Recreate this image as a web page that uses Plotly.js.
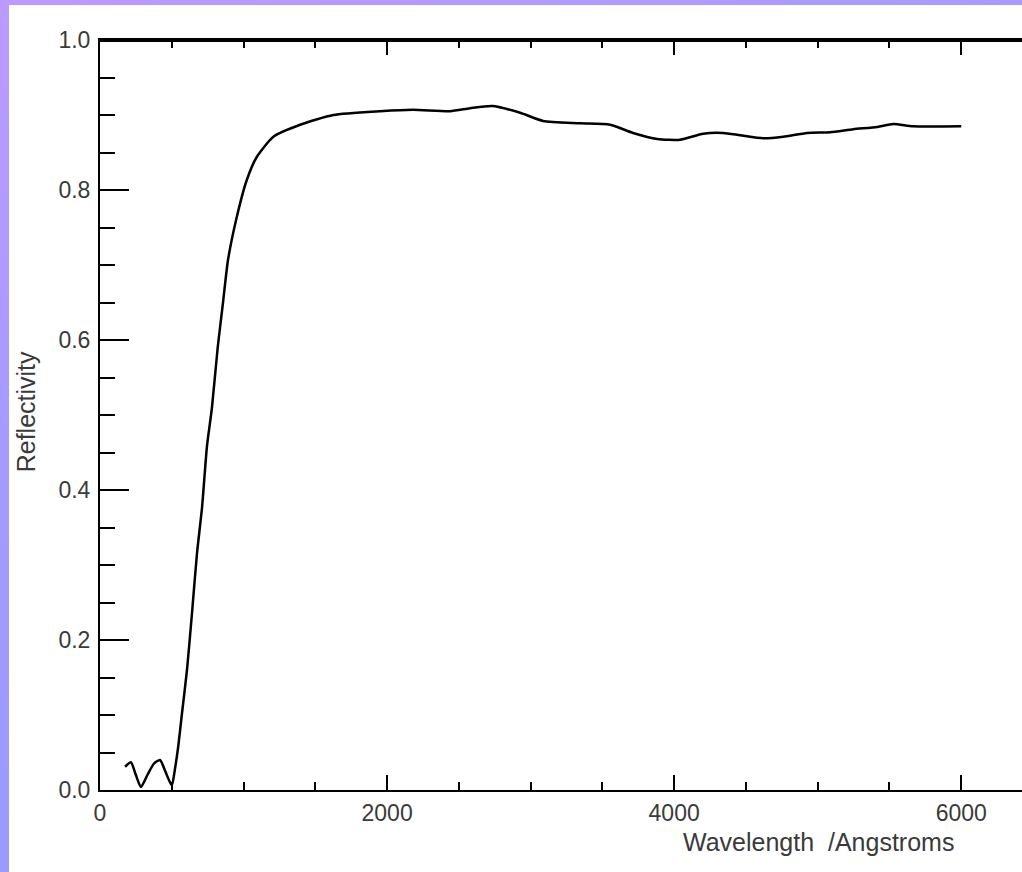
<!DOCTYPE html>
<html>
<head>
<meta charset="utf-8">
<script src="https://cdn.plot.ly/plotly-3.0.1.min.js"></script>
<style>
  html, body { margin: 0; padding: 0; width: 1022px; height: 872px; overflow: hidden; }
  body { background: linear-gradient(160deg, #bb9bff 0%, #a79aff 35%, #9a9aff 70%, #9999ff 100%); position: relative; }
  #panel { position: absolute; left: 9px; top: 5px; width: 1013px; height: 867px; background: #ffffff; }
  #chart { position: absolute; left: 0; top: 0; width: 1040px; height: 872px; }
</style>
</head>
<body>
<div id="panel"></div>
<div id="chart"></div>
<script>
// Wavelength (Angstroms)
const wavelength = [175, 215, 250, 285, 330, 375, 418, 455, 500, 523, 545, 571, 606, 641, 676, 711, 745, 780, 820, 857, 892, 953, 1022, 1092, 1208, 1394, 1626, 1951, 2181, 2439, 2578, 2732, 2927, 3087, 3345, 3554, 3714, 3882, 4042, 4202, 4341, 4460, 4620, 4760, 4927, 5087, 5247, 5415, 5526, 5665, 6000];
// Reflectivity
const reflectivity = [0.031, 0.037, 0.020, 0.004, 0.020, 0.035, 0.040, 0.025, 0.006, 0.029, 0.058, 0.102, 0.160, 0.236, 0.316, 0.377, 0.458, 0.510, 0.590, 0.650, 0.707, 0.764, 0.813, 0.844, 0.871, 0.887, 0.900, 0.905, 0.907, 0.905, 0.909, 0.912, 0.903, 0.892, 0.889, 0.887, 0.876, 0.868, 0.867, 0.875, 0.876, 0.873, 0.869, 0.871, 0.876, 0.877, 0.881, 0.884, 0.888, 0.885, 0.885];

const xTitle = "Wavelength  /Angstroms";
const yTitle = "Reflectivity";

const fontFam = "Liberation Sans, Arial, sans-serif";
const textColor = "#3a3a3a";

const trace = {
  x: wavelength,
  y: reflectivity,
  type: "scatter",
  mode: "lines",
  line: { color: "#000000", width: 2.5, shape: "spline", smoothing: 0.6 },
  hoverinfo: "skip"
};

const layout = {
  width: 1040,
  height: 872,
  margin: { l: 100, r: 7, t: 40, b: 82 },
  paper_bgcolor: "rgba(0,0,0,0)",
  plot_bgcolor: "#ffffff",
  showlegend: false,
  font: { family: fontFam, size: 23, color: textColor },
  xaxis: {
    range: [0, 6500],
    dtick: 2000,
    tick0: 0,
    ticks: "inside",
    ticklen: 15,
    tickwidth: 2,
    tickcolor: "#000",
    showline: true,
    linecolor: "#000",
    linewidth: 2,
    mirror: "ticks",
    showgrid: false,
    zeroline: false,
    ticklabelstandoff: 1,
    tickfont: { family: fontFam, size: 23, color: textColor },
    minor: { dtick: 500, ticks: "inside", ticklen: 8, tickwidth: 2, tickcolor: "#000", showgrid: false }
  },
  yaxis: {
    range: [0, 1],
    dtick: 0.2,
    tick0: 0,
    tickformat: ".1f",
    ticks: "inside",
    ticklen: 29,
    tickwidth: 2,
    tickcolor: "#000",
    showline: true,
    linecolor: "#000",
    linewidth: 2,
    mirror: false,
    showgrid: false,
    zeroline: false,
    ticklabelstandoff: 3,
    tickfont: { family: fontFam, size: 23, color: textColor },
    minor: { dtick: 0.05, ticks: "inside", ticklen: 15, tickwidth: 2, tickcolor: "#000", showgrid: false }
  },
  shapes: [
    { type: "line", xref: "paper", yref: "paper", x0: 0, x1: 1, y0: 1, y1: 1, line: { color: "#000", width: 4 } }
  ],
  annotations: [
    { text: xTitle, xref: "paper", yref: "paper", x: 0.770, y: -0.0693, xanchor: "center", yanchor: "middle", showarrow: false, font: { family: fontFam, size: 25, color: textColor } },
    { text: yTitle, xref: "paper", yref: "paper", x: -0.079, y: 0.504, xanchor: "center", yanchor: "middle", textangle: -90, showarrow: false, font: { family: fontFam, size: 25, color: textColor } }
  ]
};

Plotly.newPlot("chart", [trace], layout, { displayModeBar: false, staticPlot: true });
</script>
</body>
</html>
